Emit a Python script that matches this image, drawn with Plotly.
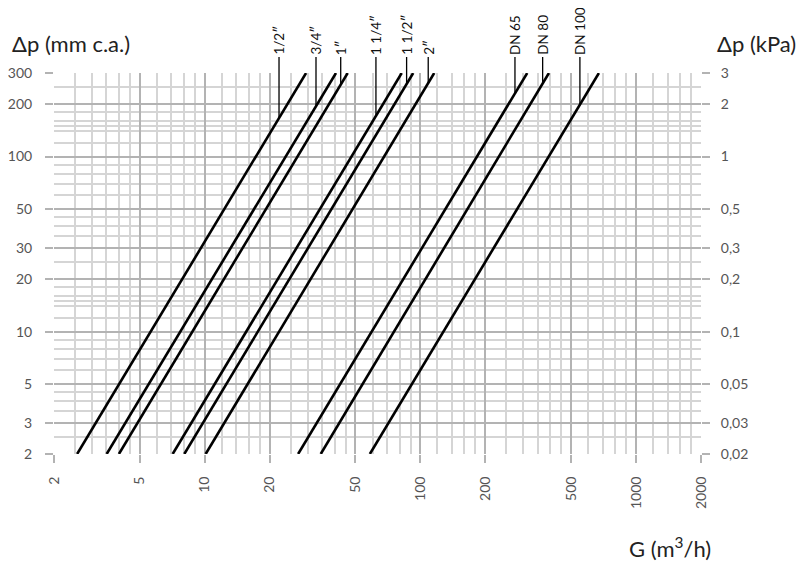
import numpy as np
import plotly.graph_objects as go

# pipe sizes, written at the top of the chart
sizes = ['1/2″', '3/4″', '1″', '1 1/4″', '1 1/2″', '2″', 'DN 65', 'DN 80', 'DN 100']
# flow rate G (m3/h) where each curve meets dp = 2 and dp = 300 mm c.a.
g_at_dp_min = [2.56, 3.51, 4.00, 7.10, 8.04, 10.1, 27.1, 34.5, 58.3]
g_at_dp_max = [29.5, 40.6, 46.0, 81.9, 92.6, 115.9, 312.8, 394.4, 672.4]
# flow rate at which the label leader touches each curve
g_label = [22.1, 32.8, 42.7, 62.2, 86.3, 108.7, 274.4, 368.8, 549]

dp_min, dp_max = 2, 300
leader_top = 370  # mm c.a., just above the plot frame

x_ticks = [2, 5, 10, 20, 50, 100, 200, 500, 1000, 2000]
x_minor = [2.5, 3, 3.5, 4, 4.5, 6, 7, 8, 9, 12, 14, 16, 18, 25, 30, 35, 40, 45,
           60, 70, 80, 90, 120, 140, 160, 180, 250, 300, 350, 400, 450,
           600, 700, 800, 900, 1200, 1400, 1600, 1800]
y_ticks = [2, 3, 5, 10, 20, 30, 50, 100, 200, 300]
y_minor = [2.5, 3.5, 4, 4.5, 6, 7, 8, 9, 12, 14, 15, 16, 18, 25, 35, 40, 45,
           60, 70, 80, 90, 120, 140, 150, 160, 180, 250]
kpa_text = ['0,02', '0,03', '0,05', '0,1', '0,2', '0,3', '0,5', '1', '2', '3']

FONT = 'Lato'
MAJOR = '#b3b3b3'
MINOR = '#d5d5d5'
TICKFONT = dict(family=FONT, size=14, color='#555555')
TITLEFONT = dict(family=FONT, size=22, color='#222222')

fig = go.Figure()

for g0, g1 in zip(g_at_dp_min, g_at_dp_max):
    fig.add_trace(go.Scatter(x=[g0, g1], y=[dp_min, dp_max], mode='lines',
                             line=dict(color='black', width=2.6),
                             showlegend=False, hoverinfo='skip'))

# invisible trace so the right (kPa) axis is drawn
fig.add_trace(go.Scatter(x=[x_ticks[0]], y=[dp_min], yaxis='y2', mode='markers',
                         marker=dict(opacity=0), showlegend=False, hoverinfo='skip'))

# labels with leader lines (anchors are in the rotated text's own frame)
for name, g0, g1, gl in zip(sizes, g_at_dp_min, g_at_dp_max, g_label):
    slope = np.log(dp_max / dp_min) / np.log(g1 / g0)
    dp_at = dp_min * (gl / g0) ** slope
    fig.add_annotation(x=np.log10(gl), y=np.log10(dp_at), xref='x', yref='y',
                       ax=np.log10(gl), ay=np.log10(leader_top), axref='x', ayref='y',
                       text=name, textangle=-90, showarrow=True, arrowhead=0,
                       arrowwidth=1.3, arrowcolor='black', standoff=0,
                       xanchor='left', yanchor='middle', borderpad=1,
                       font=dict(family=FONT, size=13.5, color='#111111'))

fig.add_annotation(x=-0.068, y=1.078, xref='paper', yref='paper', xanchor='left',
                   yanchor='middle', showarrow=False, text='Δp (mm c.a.)', font=TITLEFONT)
fig.add_annotation(x=1.022, y=1.078, xref='paper', yref='paper', xanchor='left',
                   yanchor='middle', showarrow=False, text='Δp (kPa)', font=TITLEFONT)
fig.add_annotation(x=1.0185, y=-0.2465, xref='paper', yref='paper', xanchor='right',
                   yanchor='middle', showarrow=False, text='G (m<sup>3</sup>/h)',
                   font=TITLEFONT)

# page body adds 8 px on the left/top, so the figure is 8 px smaller than the window
fig.update_layout(
    width=801, height=557,
    margin=dict(l=46, r=108, t=65, b=111),
    paper_bgcolor='white', plot_bgcolor='white',
    xaxis=dict(type='log', range=[np.log10(2), np.log10(2000)], automargin=False,
               tickmode='array', tickvals=x_ticks, ticktext=[str(v) for v in x_ticks],
               tickangle=-90, ticks='outside', ticklen=8, tickwidth=2, tickcolor=MAJOR,
               ticklabelstandoff=8, tickfont=TICKFONT,
               showgrid=True, gridcolor=MAJOR, gridwidth=2, zeroline=False, showline=False,
               minor=dict(tickmode='array', tickvals=x_minor, showgrid=True,
                          gridcolor=MINOR, gridwidth=1.5, ticks='')),
    yaxis=dict(type='log', range=[np.log10(dp_min), np.log10(dp_max)], automargin=False,
               tickmode='array', tickvals=y_ticks, ticktext=[str(v) for v in y_ticks],
               ticks='outside', ticklen=8, tickwidth=2, tickcolor=MAJOR,
               ticklabelstandoff=10, tickfont=TICKFONT,
               showgrid=True, gridcolor=MAJOR, gridwidth=2, zeroline=False, showline=False,
               minor=dict(tickmode='array', tickvals=y_minor, showgrid=True,
                          gridcolor=MINOR, gridwidth=1.5, ticks='')),
    yaxis2=dict(type='log', overlaying='y', side='right', automargin=False,
                range=[np.log10(dp_min), np.log10(dp_max)],
                tickmode='array', tickvals=y_ticks, ticktext=kpa_text,
                ticks='outside', ticklen=8, tickwidth=2, tickcolor=MAJOR,
                ticklabelstandoff=8, tickfont=TICKFONT,
                showgrid=False, zeroline=False, showline=False),
)

fig.write_html('out.html')
